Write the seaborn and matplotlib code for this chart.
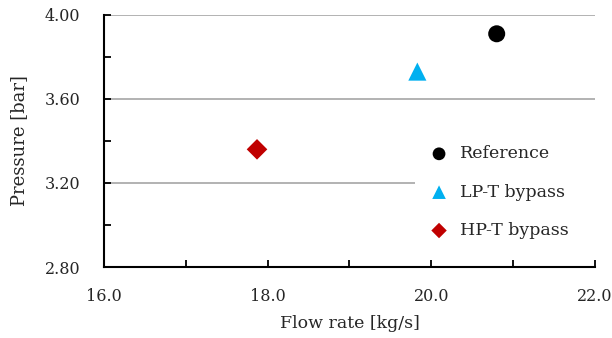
import matplotlib
matplotlib.use("Agg")
import matplotlib.pyplot as plt
import seaborn as sns
import pandas as pd
from matplotlib.ticker import MultipleLocator, FormatStrFormatter

cases = ["Reference", "LP-T bypass", "HP-T bypass"]
flow_rate = [20.80, 19.83, 17.87]
pressure = [3.91, 3.73, 3.36]
colors = {"Reference": "#000000", "LP-T bypass": "#00B0F0", "HP-T bypass": "#C00000"}
markers = {"Reference": "o", "LP-T bypass": "^", "HP-T bypass": "D"}
sizes = {"Reference": 150, "LP-T bypass": 170, "HP-T bypass": 110}

df = pd.DataFrame({"case": cases, "flow": flow_rate, "pressure": pressure})

sns.set_style("white")
plt.rcParams['font.family'] = ['DejaVu Serif']

fig = plt.figure(figsize=(6.12, 3.38), dpi=100)
ax = fig.add_axes([0.170, 0.210, 0.802, 0.746])

for c in cases:
    sub = df[df["case"] == c]
    sns.scatterplot(data=sub, x="flow", y="pressure", ax=ax, color=colors[c],
                    marker=markers[c], s=sizes[c], edgecolor="none", label=c, zorder=3)

ax.set_xlim(16.0, 22.0)
ax.set_ylim(2.80, 4.00)
ax.xaxis.set_major_locator(MultipleLocator(2.0))
ax.xaxis.set_minor_locator(MultipleLocator(1.0))
ax.yaxis.set_major_locator(MultipleLocator(0.4))
ax.yaxis.set_minor_locator(MultipleLocator(0.2))
ax.xaxis.set_major_formatter(FormatStrFormatter("%.1f"))
ax.yaxis.set_major_formatter(FormatStrFormatter("%.2f"))

ax.grid(axis="y", which="major", color="#A6A6A6", linewidth=1.2, zorder=0)
ax.set_axisbelow(True)
for s in ["top", "right"]:
    ax.spines[s].set_visible(False)
for s in ["left", "bottom"]:
    ax.spines[s].set_color("black")
    ax.spines[s].set_linewidth(1.5)

ax.tick_params(axis="both", which="both", direction="in", color="black", width=1.3,
               bottom=True, left=True, top=False, right=False)
ax.tick_params(axis="both", which="major", length=5, labelsize=11.5)
ax.tick_params(axis="x", which="major", pad=15)
ax.tick_params(axis="y", which="major", pad=17)
ax.tick_params(axis="both", which="minor", length=5)

ax.set_xlabel("Flow rate [kg/s]", fontsize=12.5, labelpad=7)
ax.set_ylabel("Pressure [bar]", fontsize=13, labelpad=12)

leg = ax.legend(loc="upper left", bbox_to_anchor=(0.633, 0.0, 0.367, 0.510),
                mode="expand", borderaxespad=0, frameon=True,
                facecolor="white", edgecolor="none", fancybox=False,
                fontsize=12.5, handletextpad=0.2, labelspacing=1.23,
                borderpad=0.4, markerscale=0.75, framealpha=1)

fig.savefig("out.png", dpi=100)
